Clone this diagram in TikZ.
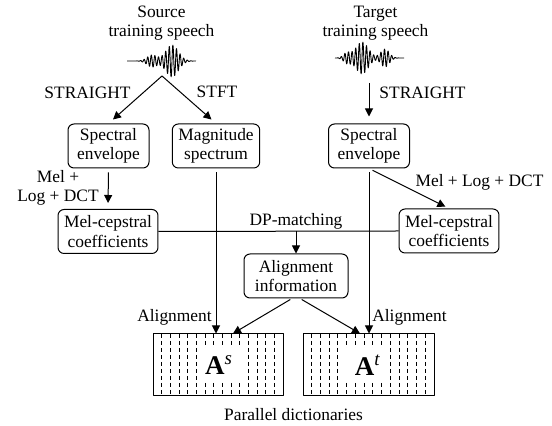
\documentclass[tikz,border=0pt]{standalone}
\usepackage{fontspec}
\setmainfont{Liberation Serif}
\usetikzlibrary{arrows.meta}

\tikzset{
  box/.style={draw, rounded corners=3pt, align=center, inner xsep=3pt, inner ysep=1pt, minimum height=22pt},
  lbl/.style={align=center, inner sep=0pt},
  dict/.style={draw, inner sep=0pt, minimum height=31pt},
  dictline/.style={dash pattern=on 2pt off 1.5pt, line width=0.45pt},
  dictlabel/.style={fill=white, inner sep=0pt, minimum width=22pt, minimum height=17pt, font=\fontsize{13.5}{14}\selectfont}
}

\begin{document}
\begin{tikzpicture}[x=0.5pt, y=-0.5pt, font=\fontsize{8.7}{9.6}\selectfont, line join=round, line width=0.5pt, >={Triangle[length=4pt,width=4pt]}]
  \useasboundingbox (0,0) rectangle (552,426);

  % speech signals
  \node[lbl] (srcT) at (161.5,23) {Source\\training speech};
  \node[lbl] (tgtT) at (375.5,23) {Target\\training speech};
  \draw[line width=0.45pt] plot[domain=0:69, samples=300] ({127+\x}, {61+(16*exp(-((\x-45)/9)^2)+6*exp(-((\x-25)/7)^2))*sin(\x*100)});
  \draw[line width=0.45pt] plot[domain=0:69, samples=300] ({335+\x}, {58+(16*exp(-((\x-27)/9)^2)+9*exp(-((\x-50)/6)^2)+5*exp(-((\x-12)/5)^2))*sin(\x*100)});
  \coordinate (srcW) at (162,76);
  \coordinate (tgtW) at (369,83);

  % boxes
  \node[box, minimum width=40.5pt] (senv) at (108.5,146) {Spectral\\envelope};
  \node[box] (magn) at (216,146) {Magnitude\\spectrum};
  \node[box, minimum width=40.5pt] (tenv) at (369,146) {Spectral\\envelope};
  \node[box] (smel) at (108,231.5) {Mel-cepstral\\coefficients};
  \node[box] (tmel) at (449,231) {Mel-cepstral\\coefficients};
  \node[box, minimum width=52pt] (align) at (296,276) {Alignment\\information};

  % dictionaries
  \node[dict, minimum width=65pt] (dictS) at (218,365) {};
  \node[dict, minimum width=65.5pt] (dictT) at (368.5,365) {};
  \foreach \i in {1,...,14} {
    \draw[dictline] ({153+\i*130/15},334) -- ++(0,62);
    \draw[dictline] ({303+\i*131/15},334) -- ++(0,62);
  }
  \node[dictlabel] (As) at (219,365) {\textbf{A}\textsuperscript{\textit{s}}};
  \node[dictlabel] (At) at (368,365) {\textbf{A}\textsuperscript{\textit{t}}};

  % labels
  \node[lbl] (straightS) at (87.5,93) {STRAIGHT};
  \node[lbl] (stft) at (217,92) {STFT};
  \node[lbl] (straightT) at (422.5,93) {STRAIGHT};
  \node[lbl] (melS) at (58,188) {Mel +\\Log + DCT};
  \node[lbl] (melT) at (479.5,182) {Mel + Log + DCT};
  \node[lbl] (dp) at (296,221) {DP-matching};
  \node[lbl] (alS) at (174.5,317) {Alignment};
  \node[lbl] (alT) at (409.5,317) {Alignment};
  \node[lbl] (par) at (293.5,415) {Parallel dictionaries};

  % connectors
  \draw[->, shorten >=3pt] (srcW) -- (senv.north);
  \draw[->, shorten >=3pt] (srcW) -- (magn.north);
  \draw[->, shorten >=3.5pt] (tgtW) -- (tenv.north);
  \draw[->, shorten <=2pt, shorten >=3pt] (senv.south) -- (smel.north);
  \draw[->, shorten <=2pt, shorten >=2pt] (tenv.south) -- (tmel.north);
  \draw[->, shorten <=2pt] (magn.south) -- (magn.south |- dictS.north);
  \draw[->, shorten <=2pt] (tenv.south) -- (tenv.south |- dictT.north);
  \draw (smel.east) -- (tmel.west);
  \draw[->] (align.north |- smel.east) -- (align.north);
  \draw[->, shorten <=1pt] ([xshift=-2pt]align.south) -- ([xshift=7.5pt]dictS.north);
  \draw[->, shorten <=1pt] ([xshift=2pt]align.south) -- ([xshift=-4.25pt]dictT.north);
\end{tikzpicture}
\end{document}
